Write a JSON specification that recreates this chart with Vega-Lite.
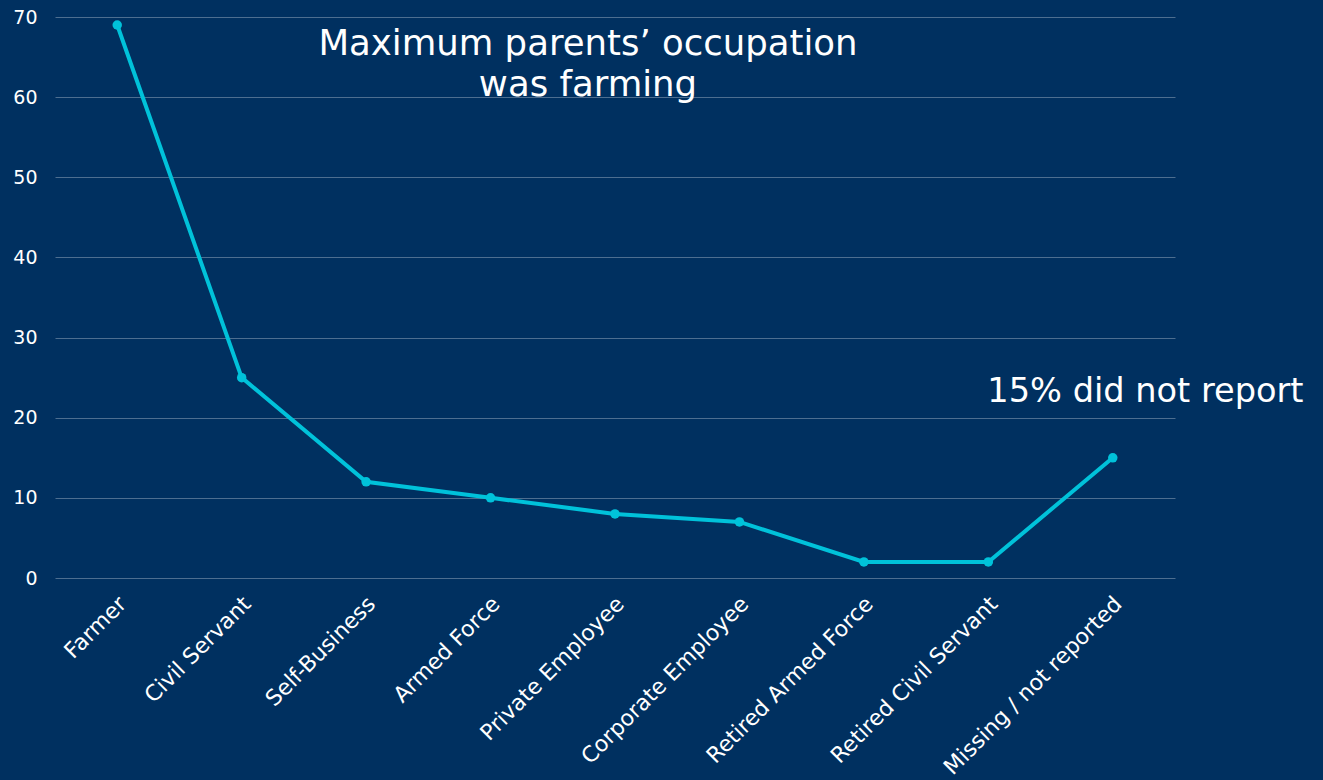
{
  "$schema": "https://vega.github.io/schema/vega-lite/v6.json",
  "width": 1120,
  "height": 561,
  "autosize": "none",
  "padding": {"left": 55, "top": 17, "right": 148, "bottom": 202},
  "background": "#003060",
  "config": {
    "view": {"stroke": null},
    "font": "DejaVu Sans"
  },
  "datasets": {
    "main": [
      {"occupation": "Farmer", "value": 69},
      {"occupation": "Civil Servant", "value": 25},
      {"occupation": "Self-Business", "value": 12},
      {"occupation": "Armed Force", "value": 10},
      {"occupation": "Private Employee", "value": 8},
      {"occupation": "Corporate Employee", "value": 7},
      {"occupation": "Retired Armed Force", "value": 2},
      {"occupation": "Retired Civil Servant", "value": 2},
      {"occupation": "Missing / not reported", "value": 15}
    ],
    "notes": [
      {"occupation": "Private Employee", "value": 66.6, "label": "Maximum parents’ occupation", "align": "center"},
      {"occupation": "Private Employee", "value": 61.5, "label": "was farming", "align": "center"},
      {"occupation": "Retired Civil Servant", "value": 23.2, "label": "15% did not report", "align": "left"}
    ]
  },
  "layer": [
    {
      "data": {"name": "main"},
      "mark": {"type": "line", "color": "#00C2DA", "strokeWidth": 4, "point": {"filled": true, "size": 90, "color": "#00C2DA"}},
      "encoding": {
        "x": {
          "field": "occupation", "type": "nominal", "sort": null,
          "scale": {"type": "point", "padding": 0.5},
          "axis": {
            "title": null, "labelAngle": -45, "labelAlign": "right", "labelBaseline": "middle",
            "labelColor": "#ffffff", "labelFontSize": 22, "labelPadding": 22, "labelOffset": 5, "labelLimit": 0,
            "domain": false, "ticks": false, "grid": false
          }
        },
        "y": {
          "field": "value", "type": "quantitative",
          "scale": {"domain": [0, 70], "nice": false},
          "axis": {
            "title": null, "values": [0, 10, 20, 30, 40, 50, 60, 70],
            "labelColor": "#ffffff", "labelFontSize": 19, "labelPadding": 18,
            "domain": false, "ticks": false,
            "gridColor": "#ffffff", "gridOpacity": 0.3, "gridWidth": 1
          }
        }
      }
    },
    {
      "data": {"name": "notes"},
      "transform": [{"filter": "datum.align == 'center'"}],
      "mark": {"type": "text", "color": "#ffffff", "fontSize": 35.5, "align": "center", "baseline": "middle", "dx": -27},
      "encoding": {
        "x": {"field": "occupation", "type": "nominal", "sort": null},
        "y": {"field": "value", "type": "quantitative"},
        "text": {"field": "label"}
      }
    },
    {
      "data": {"name": "notes"},
      "transform": [{"filter": "datum.align == 'left'"}],
      "mark": {"type": "text", "color": "#ffffff", "fontSize": 33.6, "align": "left", "baseline": "middle", "dx": -1},
      "encoding": {
        "x": {"field": "occupation", "type": "nominal", "sort": null},
        "y": {"field": "value", "type": "quantitative"},
        "text": {"field": "label"}
      }
    }
  ]
}
